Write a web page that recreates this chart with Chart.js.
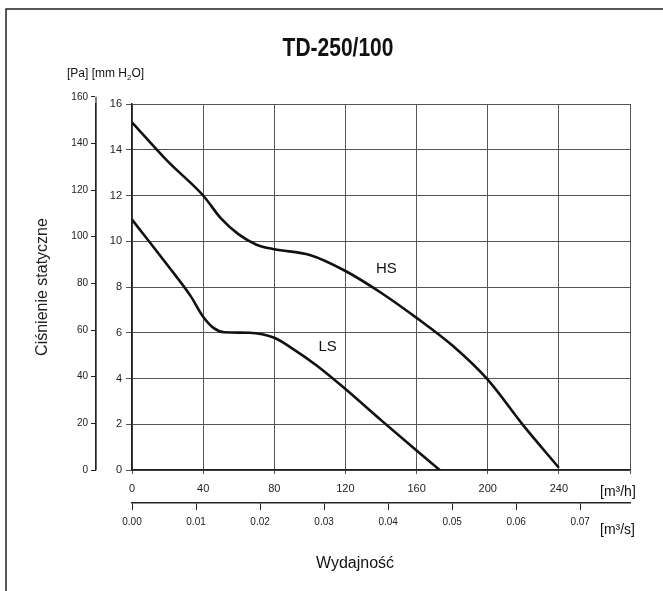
<!DOCTYPE html>
<html>
<head>
<meta charset="utf-8">
<title>TD-250/100</title>
<script src="https://cdn.jsdelivr.net/npm/chart.js@4.4.1/dist/chart.umd.min.js"></script>
<style>
    html, body { margin: 0; padding: 0; background: #fff; }
    #wrap { width: 663px; height: 591px; }
</style>
</head>
<body>
<div id="wrap"><canvas id="fanChart" width="663" height="591"></canvas></div>
<script>
// Curve readings (flow in m3/h, static pressure in mm H2O)
const flowHS = [0, 20, 40, 50, 60, 70, 80, 100, 120, 140, 160, 180, 200, 220, 240];
const pressureHS = [15.2, 13.5, 12.0, 11.0, 10.3, 9.85, 9.65, 9.4, 8.7, 7.75, 6.65, 5.45, 3.95, 1.95, 0.1];
const flowLS = [0, 20, 33, 40, 46, 52, 66, 80, 90, 104, 120, 140, 160, 173];
const pressureLS = [10.95, 8.95, 7.6, 6.7, 6.2, 6.02, 6.0, 5.78, 5.32, 4.56, 3.54, 2.18, 0.85, 0];

// Axis ticks
const flowTicks = [0, 40, 80, 120, 160, 200, 240, 280];
const mmTicks = [0, 2, 4, 6, 8, 10, 12, 14, 16];
const paTicks = [0, 20, 40, 60, 80, 100, 120, 140, 160];
const m3sTicks = [0, 0.01, 0.02, 0.03, 0.04, 0.05, 0.06, 0.07];

const PA_PER_MM = 9.80665;
const FONT = '"Liberation Sans", Arial, sans-serif';

function toPoints(xs, ys) {
    return xs.map((x, i) => ({ x: x, y: ys[i] }));
}

function setTicks(values) {
    return function (scale) {
        scale.ticks = values.map(v => ({ value: v }));
    };
}

// Frame, title and loose labels
const extrasPlugin = {
    id: 'extras',
    beforeDraw(chart) {
        const c = chart.ctx;
        c.save();
        c.strokeStyle = '#222';
        c.lineWidth = 1.5;
        c.strokeRect(6, 9, 680, 600);
        c.restore();
    },
    afterDraw(chart) {
        const c = chart.ctx;
        const x = chart.scales.x;
        const y = chart.scales.y;
        const pa = chart.scales.yPa;
        c.save();
        c.fillStyle = '#111';

        // extend the Pa axis line up to 160
        c.strokeStyle = '#222';
        c.lineWidth = 1.2;
        c.beginPath();
        c.moveTo(pa.right, pa.getPixelForValue(160));
        c.lineTo(pa.right, pa.getPixelForValue(0));
        c.stroke();

        // condensed bold title
        c.save();
        c.translate(338, 56);
        c.scale(0.84, 1);
        c.textAlign = 'center';
        c.textBaseline = 'alphabetic';
        c.font = 'bold 25px ' + FONT;
        c.fillText('TD-250/100', 0, 0);
        c.restore();

        // unit header with subscript
        c.textAlign = 'left';
        c.font = '12px ' + FONT;
        let px = 67;
        const s1 = '[Pa] [mm H';
        c.fillText(s1, px, 77);
        px += c.measureText(s1).width;
        c.font = '8px ' + FONT;
        c.fillText('2', px, 80);
        px += c.measureText('2').width;
        c.font = '12px ' + FONT;
        c.fillText('O]', px, 77);

        c.font = '14px ' + FONT;
        c.fillText('[m³/h]', 600, 496);
        c.fillText('[m³/s]', 600, 534);

        c.textAlign = 'center';
        c.font = '16px ' + FONT;
        c.fillText('Wydajność', 355, 568);

        c.textBaseline = 'middle';
        c.font = '15px ' + FONT;
        c.fillText('HS', x.getPixelForValue(143), y.getPixelForValue(8.8));
        c.fillText('LS', x.getPixelForValue(110), y.getPixelForValue(5.4));
        c.restore();
    }
};

function initializeChart() {
    const ctx = document.getElementById('fanChart');

    new Chart(ctx, {
        type: 'line',
        data: {
            datasets: [
                {
                    label: 'HS',
                    data: toPoints(flowHS, pressureHS),
                    borderColor: '#111',
                    borderWidth: 2.6,
                    pointRadius: 0,
                    cubicInterpolationMode: 'monotone',
                    xAxisID: 'x',
                    yAxisID: 'y'
                },
                {
                    label: 'LS',
                    data: toPoints(flowLS, pressureLS),
                    borderColor: '#111',
                    borderWidth: 2.6,
                    pointRadius: 0,
                    cubicInterpolationMode: 'monotone',
                    xAxisID: 'x',
                    yAxisID: 'y'
                }
            ]
        },
        options: {
            responsive: false,
            animation: false,
            devicePixelRatio: 1,
            layout: {
                padding: { left: 29, right: 33, top: 104, bottom: 58 }
            },
            plugins: {
                legend: { display: false },
                title: { display: false },
                tooltip: { enabled: false }
            },
            scales: {
                x: {
                    type: 'linear',
                    position: 'bottom',
                    weight: 0,
                    min: 0,
                    max: 280,
                    afterBuildTicks: setTicks(flowTicks),
                    afterFit: s => { s.height = 33; },
                    grid: { color: '#555', lineWidth: 1, tickLength: 4 },
                    border: { color: '#222', width: 1.5 },
                    ticks: {
                        color: '#222',
                        padding: 8,
                        maxRotation: 0,
                        font: { family: FONT, size: 11 },
                        callback: v => (v === 280 ? '' : v)
                    }
                },
                x2: {
                    type: 'linear',
                    position: 'bottom',
                    weight: 1,
                    min: 0,
                    max: 280 / 3600,
                    afterBuildTicks: setTicks(m3sTicks),
                    afterFit: s => { s.height = 30; },
                    grid: { drawOnChartArea: false, color: '#222', tickLength: 7 },
                    border: { color: '#222', width: 1.5 },
                    ticks: {
                        color: '#222',
                        padding: 6,
                        maxRotation: 0,
                        font: { family: FONT, size: 10 },
                        callback: v => v.toFixed(2)
                    }
                },
                y: {
                    type: 'linear',
                    position: 'left',
                    weight: 0,
                    min: 0,
                    max: 16,
                    afterBuildTicks: setTicks(mmTicks),
                    afterFit: s => { s.width = 36; },
                    grid: { color: '#555', lineWidth: 1, tickLength: 6 },
                    border: { color: '#222', width: 1.5 },
                    ticks: {
                        color: '#222',
                        padding: 4,
                        font: { family: FONT, size: 11 }
                    }
                },
                yPa: {
                    type: 'linear',
                    position: 'left',
                    weight: 1,
                    min: 0,
                    max: 16 * PA_PER_MM,
                    afterBuildTicks: setTicks(paTicks),
                    afterFit: s => { s.width = 67; },
                    grid: { drawOnChartArea: false, color: '#222', tickLength: 5 },
                    border: { color: '#222', width: 1.2 },
                    ticks: {
                        color: '#222',
                        padding: 3,
                        font: { family: FONT, size: 10 }
                    },
                    title: {
                        display: true,
                        text: 'Ciśnienie statyczne',
                        color: '#222',
                        font: { family: FONT, size: 16 }
                    }
                }
            }
        },
        plugins: [extrasPlugin]
    });
}

window.addEventListener('load', initializeChart);
</script>
</body>
</html>
